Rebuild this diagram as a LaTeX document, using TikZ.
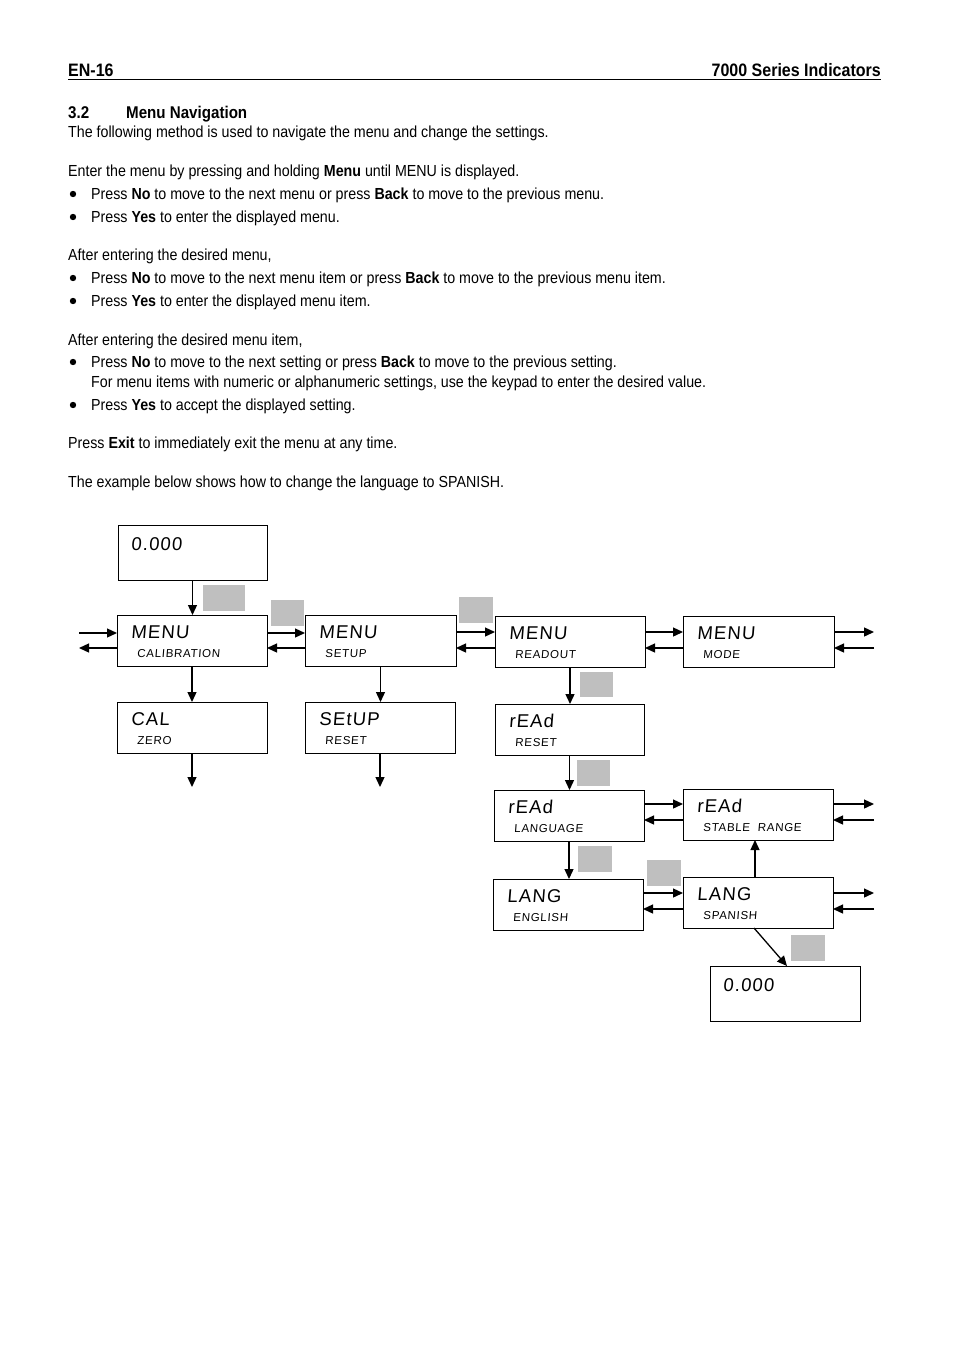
\documentclass[tikz,border=0pt]{standalone}
\usepackage{fontspec}
\setmainfont{Liberation Sans}[FakeStretch=0.89]
\newfontfamily\lcdfont{Liberation Sans}[FakeSlant=0.08, LetterSpace=6]
\usetikzlibrary{arrows.meta,calc}
\newcommand\bodyfont{\fontsize{16}{18}\selectfont}
\newcommand\lcdbox[7]{%
  \node[dbox, minimum width=#4pt, minimum height=#5pt] (#1) at (#2,#3) {};
  \node[bigt] (#1-a) at ($(#1.north west)+(14,23)$) {#6};
  \node[smallt] (#1-b) at ($(#1.north west)+(20,42)$) {#7};
}
\begin{document}
\begin{tikzpicture}[x=1pt,y=-1pt,
  txt/.style={anchor=base west, inner sep=0pt, font=\bodyfont},
  dbox/.style={draw, line width=1pt, anchor=north west, inner sep=0pt, outer sep=0pt},
  bigt/.style={anchor=base west, inner sep=0pt, font=\lcdfont\fontsize{18.5}{18}\selectfont},
  smallt/.style={anchor=base west, inner sep=0pt, font=\lcdfont\fontsize{11.5}{12}\selectfont},
  keybox/.style={fill=black!25, anchor=north west, inner sep=0pt, outer sep=0pt},
  arr/.style={line width=1.3pt, -{Triangle[length=10pt,width=9pt]}},
]
\useasboundingbox[fill=white] (0,0) rectangle (954,1349);

% header
\node[anchor=base west, inner sep=0pt, font=\fontsize{18}{20}\selectfont\bfseries] (hl) at (68,76) {EN-16};
\node[anchor=base east, inner sep=0pt, font=\fontsize{18}{20}\selectfont\bfseries] (hr) at (881,76) {7000 Series Indicators};
\draw[line width=0.9pt] (68,79.5) -- (881,79.5);

% heading
\node[anchor=base west, inner sep=0pt, font=\fontsize{17}{18}\selectfont\bfseries] (h1) at (68,118) {3.2};
\node[anchor=base west, inner sep=0pt, font=\fontsize{17}{18}\selectfont\bfseries] (h2) at (126,118) {Menu Navigation};

% body text
\node[txt] (t1) at (68,137) {The following method is used to navigate the menu and change the settings.};
\node[txt] (t2) at (68,176) {Enter the menu by pressing and holding \textbf{Menu} until MENU is displayed.};
\node[txt] (t3) at (91,199) {Press \textbf{No} to move to the next menu or press \textbf{Back} to move to the previous menu.};
\node[txt] (t4) at (91,222) {Press \textbf{Yes} to enter the displayed menu.};
\node[txt] (t5) at (68,260) {After entering the desired menu,};
\node[txt] (t6) at (91,283) {Press \textbf{No} to move to the next menu item or press \textbf{Back} to move to the previous menu item.};
\node[txt] (t7) at (91,306) {Press \textbf{Yes} to enter the displayed menu item.};
\node[txt] (t8) at (68,345) {After entering the desired menu item,};
\node[txt] (t9) at (91,367) {Press \textbf{No} to move to the next setting or press \textbf{Back} to move to the previous setting.};
\node[txt] (t10) at (91,387) {For menu items with numeric or alphanumeric settings, use the keypad to enter the desired value.};
\node[txt] (t11) at (91,410) {Press \textbf{Yes} to accept the displayed setting.};
\node[txt] (t12) at (68,448) {Press \textbf{Exit} to immediately exit the menu at any time.};
\node[txt] (t13) at (68,487) {The example below shows how to change the language to SPANISH.};
\foreach \yy in {194,217,278,301,362,405} \fill (73,\yy) circle (3.2);

% display boxes
\node[dbox, minimum width=149pt, minimum height=55pt] (b0) at (118,525) {};
\node[bigt] (b0-a) at ($(b0.north west)+(13,25)$) {0.000};
\lcdbox{m1}{117}{615}{150}{51}{MENU}{CALIBRATION}
\lcdbox{m2}{305}{615}{151}{51}{MENU}{SETUP}
\lcdbox{m3}{495}{616}{150}{51}{MENU}{READOUT}
\lcdbox{m4}{683}{616}{151}{51}{MENU}{MODE}
\lcdbox{cz}{117}{702}{150}{51}{CAL}{ZERO}
\lcdbox{sr}{305}{702}{150}{51}{SEtUP}{RESET}
\lcdbox{rr}{495}{704}{149}{51}{rEAd}{RESET}
\lcdbox{rl}{494}{790}{150}{51}{rEAd}{LANGUAGE}
\lcdbox{rs}{683}{789}{150}{51}{rEAd}{STABLE\ \ RANGE}
\lcdbox{le}{493}{879}{150}{51}{LANG}{ENGLISH}
\lcdbox{ls}{683}{877}{150}{51}{LANG}{SPANISH}
\node[dbox, minimum width=150pt, minimum height=55pt] (fin) at (710,966) {};
\node[bigt] (fin-a) at ($(fin.north west)+(13,25)$) {0.000};

% key placeholders
\node[keybox, minimum width=42pt, minimum height=26pt] (k1) at (203,585) {};
\node[keybox, minimum width=33pt, minimum height=26pt] (k2) at (271,600) {};
\node[keybox, minimum width=34pt, minimum height=26pt] (k3) at (459,597) {};
\node[keybox, minimum width=33pt, minimum height=25pt] (k4) at (580,672) {};
\node[keybox, minimum width=33pt, minimum height=26pt] (k5) at (577,760) {};
\node[keybox, minimum width=34pt, minimum height=26pt] (k6) at (578,846) {};
\node[keybox, minimum width=34pt, minimum height=26pt] (k7) at (647,860) {};
\node[keybox, minimum width=34pt, minimum height=26pt] (k8) at (791,935) {};

% free ends
\coordinate (l1) at (79,633);
\coordinate (l2) at (79,648);
\coordinate (r1) at (874,632);
\coordinate (r2) at (874,648);
\coordinate (r3) at (874,804);
\coordinate (r4) at (874,820);
\coordinate (r5) at (874,893);
\coordinate (r6) at (874,909);
\coordinate (d1) at (192,787);
\coordinate (d2) at (380,787);

% vertical arrows
\draw[arr] (b0.south) -- (b0.south |- m1.north);
\draw[arr] (m1.south) -- (m1.south |- cz.north);
\draw[arr] (m2.south) -- (m2.south |- sr.north);
\draw[arr] (cz.south) -- (cz.south |- d1);
\draw[arr] (sr.south) -- (sr.south |- d2);
\draw[arr] (m3.south) -- (m3.south |- rr.north);
\draw[arr] (rr.south) -- (rr.south |- rl.north);
\draw[arr] (rl.south) -- (rl.south |- le.north);
\draw[arr] ([xshift=-3pt]ls.north) -- ([xshift=-3pt]ls.north |- rs.south);
\draw[arr] ([xshift=-4pt]ls.south) -- ($(fin.north west)+(77,0)$);

% horizontal arrows
\draw[arr] (l1) -- (l1 -| m1.west);
\draw[arr] (m1.west |- l2) -- (l2);
\draw[arr] (m1.east |- l1) -- (m2.west |- l1);
\draw[arr] (m2.west |- l2) -- (m1.east |- l2);
\draw[arr] (m2.east |- r1) -- (m3.west |- r1);
\draw[arr] (m3.west |- r2) -- (m2.east |- r2);
\draw[arr] (m3.east |- r1) -- (m4.west |- r1);
\draw[arr] (m4.west |- r2) -- (m3.east |- r2);
\draw[arr] (m4.east |- r1) -- (r1);
\draw[arr] (r2) -- (m4.east |- r2);
\draw[arr] (rl.east |- r3) -- (rs.west |- r3);
\draw[arr] (rs.west |- r4) -- (rl.east |- r4);
\draw[arr] (rs.east |- r3) -- (r3);
\draw[arr] (r4) -- (rs.east |- r4);
\draw[arr] (le.east |- r5) -- (ls.west |- r5);
\draw[arr] (ls.west |- r6) -- (le.east |- r6);
\draw[arr] (ls.east |- r5) -- (r5);
\draw[arr] (r6) -- (ls.east |- r6);
\end{tikzpicture}
\end{document}
